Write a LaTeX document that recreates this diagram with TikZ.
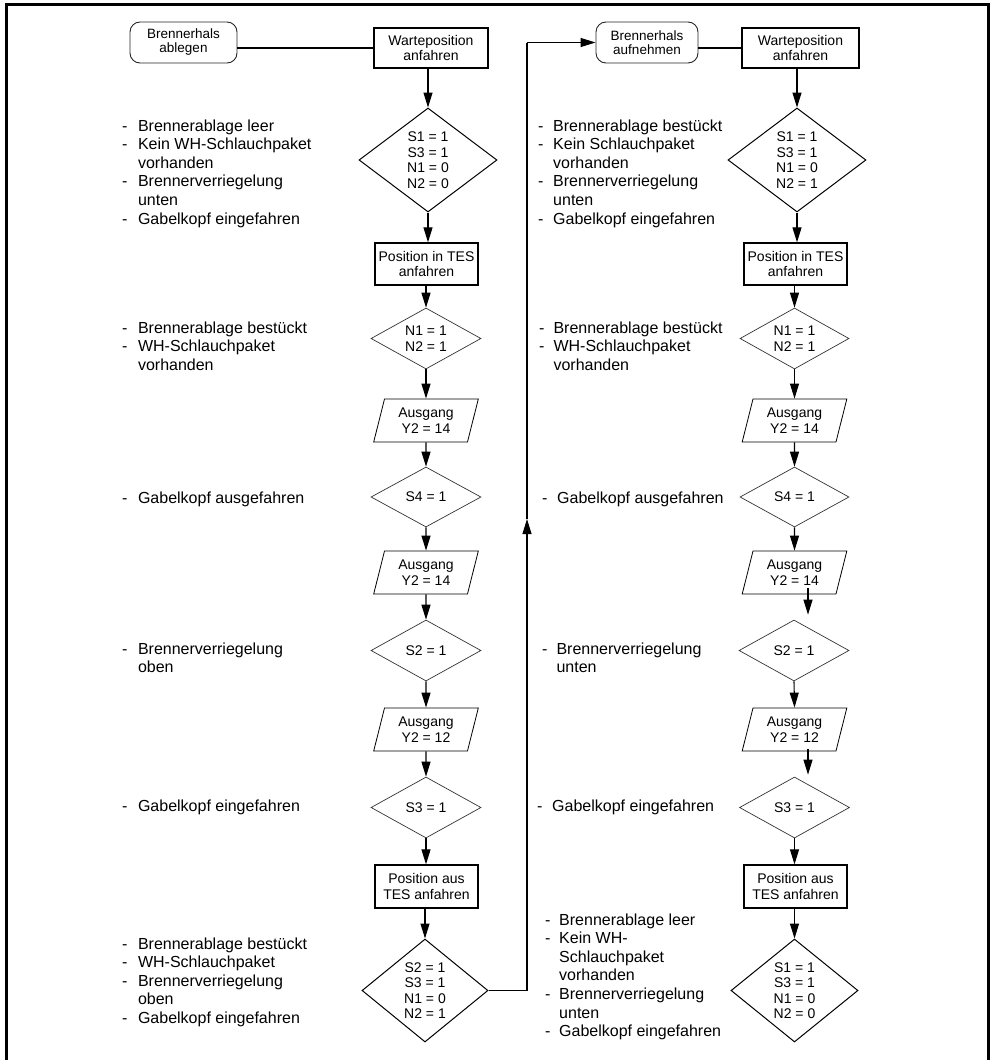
\documentclass[tikz,border=0pt]{standalone}
\usepackage{fontspec}
\setmainfont{Liberation Sans}
\usetikzlibrary{shapes.geometric,arrows.meta,calc}
\newcommand\myinfont{\fontsize{14}{15.5}\selectfont}
\newcommand\mytermfont{\fontsize{13.5}{14}\selectfont}
\newcommand\mylblfont{\fontsize{16}{18.6}\selectfont}
\begin{document}
\begin{tikzpicture}[x=1pt,y=-1pt,
  box/.style={draw, line width=1.3pt, align=center, font=\myinfont, inner sep=0pt},
  term/.style={draw=black!85, line width=0.9pt, rounded corners=10pt, align=center, font=\mytermfont, inner sep=0pt, minimum height=41pt},
  dia/.style={diamond, draw=black!80, line width=0.7pt, align=center, font=\myinfont, inner sep=0pt, aspect=1.8},
  bdia/.style={dia, draw=black, line width=1pt, aspect=1.3},
  io/.style={trapezium, trapezium left angle=74, trapezium right angle=106, trapezium stretches=true, draw, line width=0.8pt, align=center, font=\myinfont, inner sep=0pt, minimum width=105pt, minimum height=43pt},
  ln/.style={line width=1.1pt},
  arr/.style={line width=1.1pt, -{Triangle[length=15pt,width=9pt]}},
  txt/.style={anchor=base west, inner sep=0pt, font=\mylblfont}
]
\useasboundingbox (0,0) rectangle (994,1060);
\draw[line width=3pt] (6,1075) -- (6,4.5) -- (988.5,4.5) -- (988.5,1075);

% ---------------- left column ----------------
\node[term, minimum width=107pt] (abl) at (183.5,42.5) {Brennerhals\\ablegen};
\node[box, minimum width=114pt, minimum height=40pt] (lw) at (431,48) {Warteposition\\anfahren};
\node[bdia, minimum width=138pt, minimum height=104pt] (ld1) at (428,160) {S1 = 1\\S3 = 1\\N1 = 0\\N2 = 0};
\node[box, minimum width=103pt, minimum height=42pt] (lp1) at (426.5,264) {Position in TES\\anfahren};
\node[dia, minimum width=110pt, minimum height=61pt] (ld2) at (426,338.5) {N1 = 1\\N2 = 1};
\node[io] (la1) at (426,420.5) {Ausgang\\Y2 = 14};
\node[dia, minimum width=110pt, minimum height=60pt] (ld3) at (426,497) {S4 = 1};
\node[io] (la2) at (426,572.5) {Ausgang\\Y2 = 14};
\node[dia, minimum width=110pt, minimum height=61pt] (ld4) at (426,650.5) {S2 = 1};
\node[io] (la3) at (426,729.5) {Ausgang\\Y2 = 12};
\node[dia, minimum width=110pt, minimum height=61pt] (ld5) at (426,807.5) {S3 = 1};
\node[box, minimum width=103pt, minimum height=43pt] (lp2) at (426.5,886.5) {Position aus\\TES anfahren};
\node[bdia, minimum width=126pt, minimum height=103pt] (ld6) at (425,990.5) {S2 = 1\\S3 = 1\\N1 = 0\\N2 = 1};

\draw[ln] (lw.west) -- (lw.west -| abl.east);
\draw[arr] (lw.south -| ld1.north) -- (ld1.north);
\draw[arr] (ld1.south) -- (lp1.north -| ld1.south);
\draw[arr] (lp1.south -| ld2.north) -- (ld2.north);
\draw[arr] (ld2.south) -- (la1.north -| ld2.south);
\draw[arr] (la1.south) -- (ld3.north);
\draw[arr] (ld3.south) -- (la2.north);
\draw[arr] (la2.south) -- (ld4.north);
\draw[arr] (ld4.south) -- (la3.north);
\draw[arr] (la3.south) -- (ld5.north);
\draw[arr] (ld5.south) -- (lp2.north -| ld5.south);
\draw[arr] (lp2.south -| ld6.north) -- (ld6.north);

% loop to the right column
\coordinate (c1) at (527,990.5);
\coordinate (cm) at (527,519);
\coordinate (c2) at (527,42.5);

% ---------------- right column ----------------
\node[term, minimum width=102pt] (auf) at (647,42.5) {Brennerhals\\aufnehmen};
\node[box, minimum width=117pt, minimum height=40pt] (rw) at (800.5,48) {Warteposition\\anfahren};
\node[bdia, minimum width=138pt, minimum height=104pt] (rd1) at (797,160) {S1 = 1\\S3 = 1\\N1 = 0\\N2 = 1};
\node[box, minimum width=103pt, minimum height=42pt] (rp1) at (795.5,264) {Position in TES\\anfahren};
\node[dia, minimum width=109pt, minimum height=61pt] (rd2) at (794.5,338.5) {N1 = 1\\N2 = 1};
\node[io] (ra1) at (794.5,420.5) {Ausgang\\Y2 = 14};
\node[dia, minimum width=109pt, minimum height=60pt] (rd3) at (794.5,497) {S4 = 1};
\node[io] (ra2) at (794.5,572.5) {Ausgang\\Y2 = 14};
\node[dia, minimum width=110pt, minimum height=61pt] (rd4) at (794,650.5) {S2 = 1};
\node[io] (ra3) at (794.5,729.5) {Ausgang\\Y2 = 12};
\node[dia, minimum width=110pt, minimum height=61pt] (rd5) at (794.5,807.5) {S3 = 1};
\node[box, minimum width=103pt, minimum height=43pt] (rp2) at (795.5,886.5) {Position aus\\TES anfahren};
\node[bdia, minimum width=127pt, minimum height=103pt] (rd6) at (794.5,990.5) {S1 = 1\\S3 = 1\\N1 = 0\\N2 = 0};
\coordinate (xo) at (808,0);

\draw[ln] (ld6.east) -- (c1);
\draw[arr] (c1) -- (cm);
\draw[ln] (cm) -- (c2);
\draw[arr] (c2) -- (auf.west);

\draw[ln] (rw.west) -- (rw.west -| auf.east);
\draw[arr] (rw.south -| rd1.north) -- (rd1.north);
\draw[arr] (rd1.south) -- (rp1.north -| rd1.south);
\draw[arr] (rp1.south -| rd2.north) -- (rd2.north);
\draw[arr] (rd2.south) -- (ra1.north -| rd2.south);
\draw[arr] (ra1.south) -- (rd3.north);
\draw[arr] (rd3.south) -- (ra2.north);
\draw[arr] ($(ra2.south -| xo)+(0,-6)$) -- ($(rd4.north -| xo)+(0,-5)$);
\draw[arr] (rd4.south) -- (ra3.north);
\draw[arr] ($(ra3.south -| xo)+(0,-2)$) -- ($(rd5.north -| xo)+(0,-2)$);
\draw[arr] (rd5.south) -- (rp2.north -| rd5.south);
\draw[arr] (rp2.south -| rd6.north) -- (rd6.north);

% ---------------- condition texts ----------------
\node[txt] (tl1) at (122,131) {\begin{tabular}[t]{@{}l@{\hspace{10.5pt}}l@{}}-&Brennerablage leer\\-&Kein WH-Schlauchpaket\\&vorhanden\\-&Brennerverriegelung\\&unten\\-&Gabelkopf eingefahren\end{tabular}};
\node[txt] (tl2) at (122,333) {\begin{tabular}[t]{@{}l@{\hspace{10.5pt}}l@{}}-&Brennerablage bestückt\\-&WH-Schlauchpaket\\&vorhanden\end{tabular}};
\node[txt] (tl3) at (122,503) {\begin{tabular}[t]{@{}l@{\hspace{10.5pt}}l@{}}-&Gabelkopf ausgefahren\end{tabular}};
\node[txt] (tl4) at (122,654) {\begin{tabular}[t]{@{}l@{\hspace{10.5pt}}l@{}}-&Brennerverriegelung\\&oben\end{tabular}};
\node[txt] (tl5) at (122,811) {\begin{tabular}[t]{@{}l@{\hspace{10.5pt}}l@{}}-&Gabelkopf eingefahren\end{tabular}};
\node[txt] (tl6) at (122,949) {\begin{tabular}[t]{@{}l@{\hspace{10.5pt}}l@{}}-&Brennerablage bestückt\\-&WH-Schlauchpaket\\-&Brennerverriegelung\\&oben\\-&Gabelkopf eingefahren\end{tabular}};

\node[txt] (tr1) at (538,131) {\begin{tabular}[t]{@{}l@{\hspace{9.7pt}}l@{}}-&Brennerablage bestückt\\-&Kein Schlauchpaket\\&vorhanden\\-&Brennerverriegelung\\&unten\\-&Gabelkopf eingefahren\end{tabular}};
\node[txt] (tr2) at (539,333) {\begin{tabular}[t]{@{}l@{\hspace{9pt}}l@{}}-&Brennerablage bestückt\\-&WH-Schlauchpaket\\&vorhanden\end{tabular}};
\node[txt] (tr3) at (542,503) {\begin{tabular}[t]{@{}l@{\hspace{9.7pt}}l@{}}-&Gabelkopf ausgefahren\end{tabular}};
\node[txt] (tr4) at (542,654) {\begin{tabular}[t]{@{}l@{\hspace{9pt}}l@{}}-&Brennerverriegelung\\&unten\end{tabular}};
\node[txt] (tr5) at (537,811) {\begin{tabular}[t]{@{}l@{\hspace{9.7pt}}l@{}}-&Gabelkopf eingefahren\end{tabular}};
\node[txt] (tr6) at (545,925) {\begin{tabular}[t]{@{}l@{\hspace{8.7pt}}l@{}}-&Brennerablage leer\\-&Kein WH-\\&Schlauchpaket\\&vorhanden\\-&Brennerverriegelung\\&unten\\-&Gabelkopf eingefahren\end{tabular}};
\end{tikzpicture}
\end{document}
